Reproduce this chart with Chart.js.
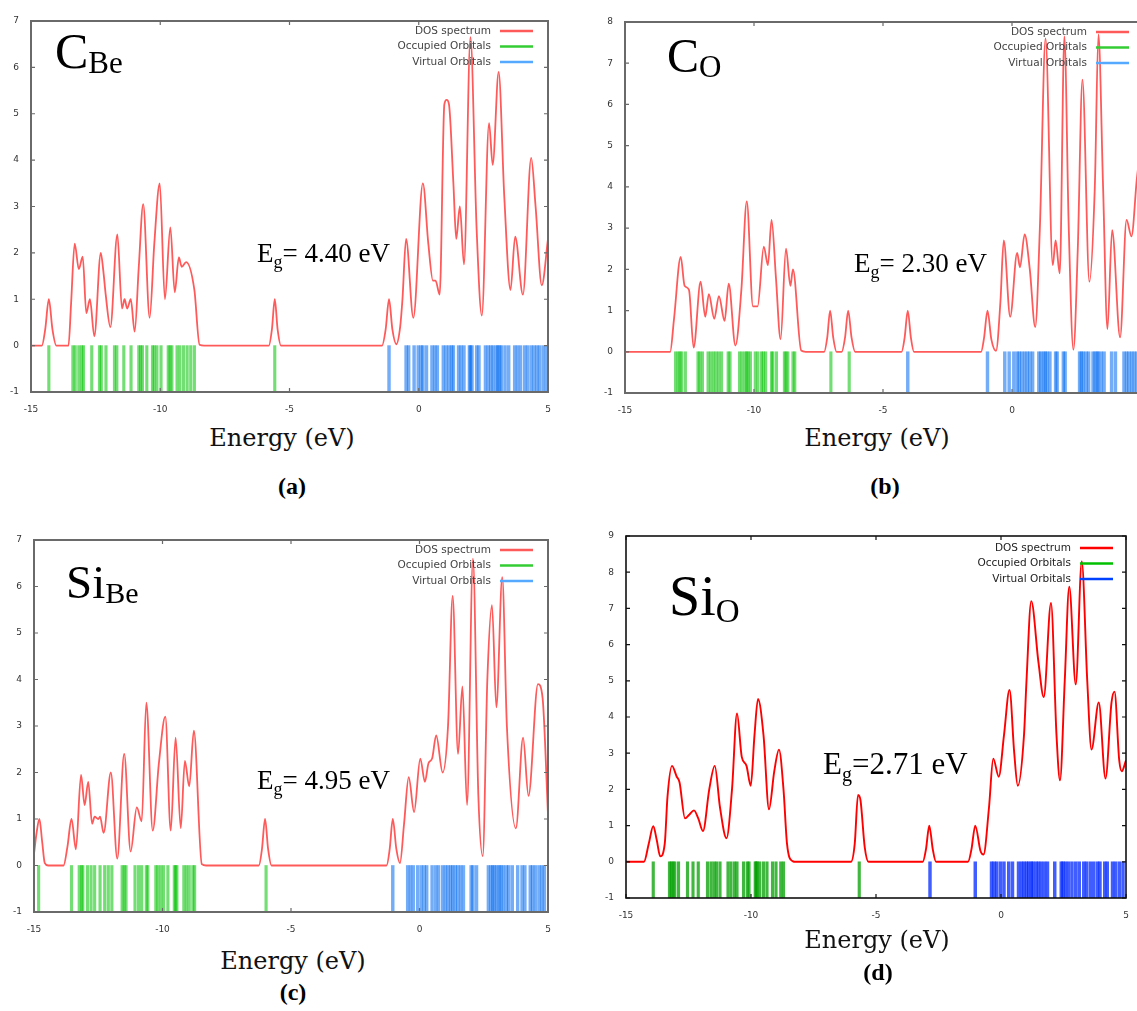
<!DOCTYPE html>
<html><head><meta charset="utf-8">
<script src="https://cdn.jsdelivr.net/npm/chart.js@4"></script>
<style>
html,body{margin:0;padding:0;background:#fff;overflow:hidden;width:1137px;height:1011px;position:relative;}
canvas{position:absolute;}
.t{position:absolute;font-family:'Liberation Serif',serif;color:#000;white-space:nowrap;line-height:1;}
.ax{position:absolute;font-family:'DejaVu Serif',serif;color:#111;white-space:nowrap;line-height:1;width:300px;text-align:center;font-size:24px;}
.lb{position:absolute;font-family:'Liberation Serif',serif;font-weight:bold;color:#000;white-space:nowrap;line-height:1;width:100px;text-align:center;font-size:24px;}
.s{position:relative;}
</style></head><body>
<canvas id="ca"></canvas><canvas id="cb"></canvas><canvas id="cc"></canvas><canvas id="cd"></canvas>

<div class="t" style="left:55px;top:26px;font-size:50px">C<span class="s" style="font-size:31px;top:5px">Be</span></div>
<div class="t" style="left:667px;top:32px;font-size:48px">C<span class="s" style="font-size:31px;top:5px">O</span></div>
<div class="t" style="left:66px;top:559px;font-size:47px">Si<span class="s" style="font-size:30px;top:5px">Be</span></div>
<div class="t" style="left:669px;top:568px;font-size:56px">Si<span class="s" style="font-size:33px;top:7px">O</span></div>

<div class="t" style="left:257px;top:240px;font-size:27px">E<span class="s" style="font-size:18px;top:6px">g</span>= 4.40 eV</div>
<div class="t" style="left:854px;top:250px;font-size:27px">E<span class="s" style="font-size:18px;top:6px">g</span>= 2.30 eV</div>
<div class="t" style="left:257px;top:767px;font-size:27px">E<span class="s" style="font-size:18px;top:6px">g</span>= 4.95 eV</div>
<div class="t" style="left:823px;top:748px;font-size:31px">E<span class="s" style="font-size:20px;top:7px">g</span>=2.71 eV</div>

<div class="ax" style="left:132px;top:426px">Energy (eV)</div>
<div class="ax" style="left:727px;top:426px">Energy (eV)</div>
<div class="ax" style="left:143px;top:949px">Energy (eV)</div>
<div class="ax" style="left:727px;top:928px">Energy (eV)</div>
<div class="lb" style="left:242px;top:474px">(a)</div>
<div class="lb" style="left:835px;top:474px">(b)</div>
<div class="lb" style="left:243px;top:980px">(c)</div>
<div class="lb" style="left:828px;top:960px">(d)</div>

<script>
// ---------- data ----------
const legendLabels = ['DOS spectrum', 'Occupied Orbitals', 'Virtual Orbitals'];
const xTicks = [-15, -10, -5, 0, 5];

// (a) C_Be
const dosA = [[-15,0],[-14.58,0],[-14.45,0.35],[-14.31,1.0],[-14.17,0.35],[-14.02,0],[-13.55,0],[-13.45,0.9],[-13.31,2.2],[-13.15,1.65],[-13.0,1.92],[-12.86,0.7],[-12.72,1.0],[-12.55,0.2],[-12.3,2.0],[-12.2,1.6],[-12.11,1.1],[-11.93,0.4],[-11.66,2.4],[-11.48,0.8],[-11.38,1.0],[-11.28,0.8],[-11.14,1.0],[-10.99,0.3],[-10.83,1.7],[-10.66,3.05],[-10.41,0.6],[-10.23,2.2],[-10.02,3.5],[-9.82,1.0],[-9.61,2.55],[-9.44,1.15],[-9.28,1.9],[-9.17,1.7],[-9.0,1.8],[-8.68,1.2],[-8.48,0.02],[-8.3,0],[-5.8,0],[-5.68,0.35],[-5.57,1.0],[-5.46,0.35],[-5.33,0],[-1.42,0],[-1.28,0.35],[-1.15,1.0],[-1.02,0.35],[-0.87,0.03],[-0.72,0.4],[-0.63,1.0],[-0.49,2.3],[-0.21,0.6],[0.16,3.5],[0.37,2.2],[0.55,1.4],[0.65,1.4],[0.81,1.1],[0.99,5.2],[1.08,5.3],[1.17,5.2],[1.34,3.5],[1.45,2.3],[1.59,3.0],[1.75,1.75],[2.0,6.65],[2.24,2.5],[2.44,0.65],[2.72,4.8],[2.86,3.9],[3.09,5.9],[3.31,3.2],[3.55,1.2],[3.73,2.35],[4.03,1.1],[4.35,4.05],[4.52,3.0],[4.76,1.3],[5.0,2.3]];
const occA = [-14.31,-13.38,-13.29,-13.15,-13.04,-12.97,-12.65,-12.35,-12.28,-12.10,-11.77,-11.68,-11.41,-11.13,-10.83,-10.76,-10.69,-10.52,-10.30,-10.23,-10.13,-9.97,-9.69,-9.62,-9.55,-9.35,-9.24,-9.10,-8.96,-8.82,-8.68,-5.57];
const virtA = [-1.15,-0.49,-0.39,-0.18,-0.02,0.09,0.16,0.30,0.51,0.62,0.72,0.95,1.06,1.17,1.27,1.34,1.54,1.64,1.75,1.96,2.00,2.06,2.24,2.33,2.58,2.69,2.79,2.88,3.00,3.06,3.13,3.20,3.34,3.48,3.71,3.82,3.94,4.10,4.21,4.35,4.46,4.57,4.67,4.81,4.93];

// (b) C_O
const dosB = [[-15,0],[-13.25,0],[-13.1,0.8],[-12.84,2.3],[-12.69,1.6],[-12.52,1.5],[-12.34,0.1],[-12.07,1.7],[-11.89,0.85],[-11.75,1.4],[-11.54,0.8],[-11.36,1.35],[-11.14,0.75],[-10.98,1.65],[-10.72,0.15],[-10.49,1.5],[-10.28,3.65],[-10.04,1.1],[-9.86,1.1],[-9.62,2.55],[-9.46,2.1],[-9.32,3.2],[-9.15,1.8],[-8.97,0.3],[-8.76,2.5],[-8.59,1.6],[-8.49,2.0],[-8.17,0.03],[-8.0,0],[-7.28,0],[-7.16,0.35],[-7.05,1.0],[-6.93,0.35],[-6.8,0],[-6.6,0],[-6.47,0.35],[-6.35,1.0],[-6.22,0.35],[-6.08,0],[-4.28,0],[-4.16,0.35],[-4.04,1.0],[-3.92,0.35],[-3.8,0],[-1.2,0],[-1.08,0.35],[-0.95,1.0],[-0.8,0.3],[-0.62,0.02],[-0.45,1.2],[-0.32,2.7],[-0.07,0.85],[0.2,2.4],[0.31,2.05],[0.49,2.85],[0.69,2.0],[0.9,0.6],[1.08,3.0],[1.3,7.6],[1.58,2.1],[1.69,2.7],[1.85,1.9],[2.03,7.65],[2.2,3.0],[2.38,0.05],[2.55,2.5],[2.73,6.6],[3.0,1.7],[3.21,4.0],[3.35,7.7],[3.53,4.0],[3.7,0.55],[3.88,2.95],[4.19,0.35],[4.44,3.2],[4.63,2.8],[4.84,4.2],[5.0,5.0]];
const occB = [-13.04,-12.94,-12.87,-12.80,-12.66,-12.17,-12.10,-12.00,-11.78,-11.68,-11.57,-11.47,-11.37,-11.26,-11.00,-10.93,-10.56,-10.46,-10.35,-10.28,-10.23,-10.14,-9.95,-9.85,-9.71,-9.64,-9.55,-9.32,-9.27,-9.13,-8.82,-8.76,-8.69,-8.49,-8.42,-7.02,-6.31];
const virtB = [-4.04,-0.95,-0.28,-0.11,0.07,0.20,0.28,0.38,0.49,0.59,0.69,0.80,1.04,1.12,1.22,1.29,1.36,1.47,1.69,1.75,1.99,2.06,2.62,2.69,2.76,2.87,2.97,3.14,3.22,3.30,3.35,3.46,3.57,3.86,4.01,4.34,4.44,4.53,4.64,4.74,4.85,4.95];

// (c) Si_Be
const dosC = [[-15,0.25],[-14.9,0.7],[-14.79,1.0],[-14.68,0.5],[-14.58,0.05],[-14.45,0],[-13.85,0],[-13.7,0.4],[-13.54,1.0],[-13.37,0.35],[-13.17,1.95],[-13.03,1.3],[-12.89,1.8],[-12.74,0.9],[-12.64,1.05],[-12.5,1.0],[-12.43,1.05],[-12.29,0.7],[-12.01,2.0],[-11.76,0.15],[-11.49,2.4],[-11.24,0.3],[-11.0,1.25],[-10.81,0.95],[-10.63,3.5],[-10.38,0.75],[-10.14,2.2],[-9.89,3.2],[-9.68,0.75],[-9.49,2.75],[-9.29,0.8],[-9.13,2.25],[-8.96,1.7],[-8.78,2.9],[-8.47,0.03],[-8.3,0],[-6.25,0],[-6.13,0.35],[-6.01,1.0],[-5.89,0.35],[-5.76,0],[-1.28,0],[-1.16,0.35],[-1.04,1.0],[-0.9,0.35],[-0.76,0.05],[-0.6,0.9],[-0.42,1.9],[-0.21,1.15],[0.03,2.3],[0.21,1.8],[0.35,2.2],[0.49,2.3],[0.65,2.8],[0.9,2.0],[1.11,3.0],[1.29,5.8],[1.5,2.4],[1.67,3.85],[1.85,1.3],[2.08,6.6],[2.29,1.5],[2.46,0.2],[2.64,4.0],[2.82,5.6],[2.99,3.4],[3.22,6.2],[3.4,3.0],[3.75,0.8],[4.03,2.75],[4.24,1.5],[4.61,3.9],[4.79,3.6],[5.0,1.1]];
const occC = [-14.82,-13.54,-13.24,-13.15,-13.10,-12.92,-12.78,-12.64,-12.43,-12.25,-12.11,-11.97,-11.57,-11.49,-11.42,-11.07,-10.93,-10.81,-10.63,-10.57,-10.26,-10.18,-10.07,-9.96,-9.79,-9.54,-9.49,-9.44,-9.17,-9.07,-8.96,-8.82,-8.75,-5.97];
const virtC = [-1.04,-0.46,-0.35,-0.24,-0.07,0.07,0.18,0.28,0.49,0.63,0.74,0.90,1.01,1.11,1.21,1.29,1.39,1.49,1.60,1.71,2.01,2.08,2.22,2.68,2.78,2.85,2.92,3.01,3.10,3.17,3.26,3.38,3.47,3.61,3.82,3.99,4.10,4.31,4.40,4.51,4.65,4.76,4.86];

// (d) Si_O
const dosD = [[-15,0],[-14.28,0],[-14.09,0.5],[-13.91,0.98],[-13.77,0.6],[-13.63,0.15],[-13.45,0.5],[-13.34,1.8],[-13.16,2.65],[-12.97,2.35],[-12.86,2.2],[-12.64,1.2],[-12.47,1.3],[-12.28,1.42],[-12.11,1.2],[-11.92,0.85],[-11.67,2.0],[-11.45,2.65],[-11.24,1.5],[-10.98,0.65],[-10.76,2.0],[-10.56,4.1],[-10.37,2.9],[-10.18,2.65],[-10.01,2.1],[-9.86,3.5],[-9.72,4.5],[-9.5,3.5],[-9.28,1.45],[-9.07,2.5],[-8.88,3.1],[-8.7,2.0],[-8.56,0.5],[-8.34,0.02],[-8.2,0],[-6.0,0],[-5.85,0.5],[-5.72,1.85],[-5.62,1.7],[-5.45,0.4],[-5.3,0],[-3.13,0],[-3.0,0.35],[-2.87,1.0],[-2.73,0.35],[-2.6,0],[-1.32,0],[-1.18,0.35],[-1.03,1.0],[-0.82,0.3],[-0.7,0.2],[-0.48,1.5],[-0.31,2.85],[-0.09,2.35],[0.12,3.5],[0.34,4.75],[0.53,3.0],[0.67,2.1],[0.92,3.5],[1.02,5.0],[1.21,7.2],[1.5,5.5],[1.71,4.55],[2.0,7.15],[2.22,3.5],[2.36,2.25],[2.55,5.0],[2.73,7.6],[2.99,4.9],[3.23,8.3],[3.45,5.0],[3.62,3.1],[3.91,4.4],[4.18,2.3],[4.42,4.4],[4.54,4.7],[4.73,2.8],[4.83,2.5],[5.0,2.8]];
const occD = [-13.91,-13.26,-13.19,-13.12,-13.05,-12.90,-12.54,-12.32,-12.11,-11.74,-11.60,-11.48,-11.38,-11.24,-10.92,-10.80,-10.66,-10.56,-10.30,-10.15,-10.08,-9.83,-9.79,-9.75,-9.65,-9.50,-9.36,-9.14,-9.00,-8.81,-8.70,-5.67];
const virtD = [-2.84,-1.03,-0.38,-0.28,-0.17,-0.02,0.12,0.31,0.46,0.70,0.82,0.92,1.02,1.11,1.21,1.28,1.40,1.50,1.61,1.74,1.86,2.15,2.41,2.48,2.58,2.70,2.84,2.99,3.13,3.31,3.42,3.57,3.71,3.86,3.96,4.15,4.25,4.46,4.58,4.73,4.88];

// ---------- styles & layout ----------
const light = {dos:'#ff5a5a', dosW:1.8, occ:'rgba(0,195,0,0.55)', virt:'rgba(0,105,240,0.55)',
               legDos:'#ff5a5a', legOcc:'#33cc33', legVirt:'#55aaff', frame:'#6a6a6a', frameW:2, text:'#444'};
const dark  = {dos:'#ff0000', dosW:1.9, occ:'rgba(0,160,0,0.75)', virt:'rgba(0,40,255,0.75)',
               legDos:'#ff0000', legOcc:'#00c000', legVirt:'#0040ff', frame:'#111', frameW:1.6, text:'#222'};

const panels = [
  {id:'ca', area:{l:31,t:21,r:548,b:392}, yMax:7, dos:dosA, occ:occA, virt:virtA, c:light, leg:{dy:10, dr:15}},
  {id:'cb', area:{l:625,t:22,r:1141,b:393}, yMax:8, dos:dosB, occ:occB, virt:virtB, c:light, leg:{dy:10, dr:12}},
  {id:'cc', area:{l:34,t:540,r:548,b:912}, yMax:7, dos:dosC, occ:occC, virt:virtC, c:light, leg:{dy:10, dr:15}},
  {id:'cd', area:{l:626,t:536,r:1126,b:898}, yMax:9, dos:dosD, occ:occD, virt:virtD, c:dark, leg:{dy:12, dr:13}}
];

const framePlugin = {
  id:'frame',
  afterDraw(chart, args, o){
    const {ctx, chartArea:a, scales:{x, y}} = chart;
    ctx.save();
    ctx.strokeStyle = o.color; ctx.lineWidth = o.width;
    ctx.strokeRect(a.left, a.top, a.right - a.left, a.bottom - a.top);
    ctx.lineWidth = 1.2;
    ctx.beginPath();
    x.ticks.forEach(t => { const px = x.getPixelForValue(t.value);
      ctx.moveTo(px, a.bottom); ctx.lineTo(px, a.bottom - 4);
      ctx.moveTo(px, a.top); ctx.lineTo(px, a.top + 4); });
    y.ticks.forEach(t => { const py = y.getPixelForValue(t.value);
      ctx.moveTo(a.left, py); ctx.lineTo(a.left + 4, py);
      ctx.moveTo(a.right, py); ctx.lineTo(a.right - 4, py); });
    ctx.stroke();
    ctx.restore();
  }
};

const legendPlugin = {
  id:'dosLegend',
  afterDraw(chart, args, o){
    const {ctx, chartArea:a} = chart;
    ctx.save();
    ctx.font = '10.5px "DejaVu Sans", sans-serif';
    ctx.textAlign = 'right'; ctx.textBaseline = 'middle';
    const x1 = a.right - o.dr, x0 = x1 - 33;
    o.labels.forEach((lab, i) => {
      const yy = a.top + o.dy + i * 15.5;
      ctx.fillStyle = o.text;
      ctx.fillText(lab, x0 - 9, yy);
      ctx.strokeStyle = o.colors[i]; ctx.lineWidth = 2.5;
      ctx.beginPath(); ctx.moveTo(x0, yy); ctx.lineTo(x1, yy); ctx.stroke();
    });
    ctx.restore();
  }
};

const YW = 34, PT = 24, PR = 22, XH = 30;

panels.forEach(p => {
  const cv = document.getElementById(p.id);
  const W = YW + (p.area.r - p.area.l) + PR, H = PT + (p.area.b - p.area.t) + XH;
  cv.width = W; cv.height = H;
  cv.style.width = W + 'px'; cv.style.height = H + 'px';
  cv.style.left = (p.area.l - YW) + 'px'; cv.style.top = (p.area.t - PT) + 'px';
  const tickFont = {family:'"DejaVu Sans", sans-serif', size:9};
  new Chart(cv, {
    type:'bar',
    data:{datasets:[
      {type:'line', label:legendLabels[0], data:p.dos.map(([e, v]) => ({x:e, y:v})),
       borderColor:p.c.dos, borderWidth:p.c.dosW, pointRadius:0, cubicInterpolationMode:'monotone', fill:false, order:0},
      {type:'bar', label:legendLabels[1], data:p.occ.map(e => ({x:e, y:[-1, 0]})),
       backgroundColor:p.c.occ, borderWidth:0, barThickness:2.5, grouped:false, order:1},
      {type:'bar', label:legendLabels[2], data:p.virt.map(e => ({x:e, y:[-1, 0]})),
       backgroundColor:p.c.virt, borderWidth:0, barThickness:2.8, grouped:false, order:1}
    ]},
    options:{
      responsive:false, animation:false, devicePixelRatio:1,
      layout:{padding:{left:0, top:PT, right:PR, bottom:0}},
      plugins:{
        legend:{display:false}, tooltip:{enabled:false},
        frame:{color:p.c.frame, width:p.c.frameW},
        dosLegend:{labels:legendLabels, colors:[p.c.legDos, p.c.legOcc, p.c.legVirt], text:p.c.text, dy:p.leg.dy, dr:p.leg.dr}
      },
      scales:{
        x:{type:'linear', min:-15, max:5, offset:false,
           grid:{display:false, drawTicks:false}, border:{display:false},
           afterBuildTicks(s){ s.ticks = xTicks.map(v => ({value:v})); },
           ticks:{font:tickFont, color:'#333', padding:12, maxRotation:0},
           afterFit(s){ s.height = XH; }},
        y:{type:'linear', min:-1, max:p.yMax,
           grid:{display:false, drawTicks:false}, border:{display:false},
           ticks:{stepSize:1, font:tickFont, color:'#333', padding:12},
           afterFit(s){ s.width = YW; }}
      }
    },
    plugins:[framePlugin, legendPlugin]
  });
});
</script>
</body></html>
